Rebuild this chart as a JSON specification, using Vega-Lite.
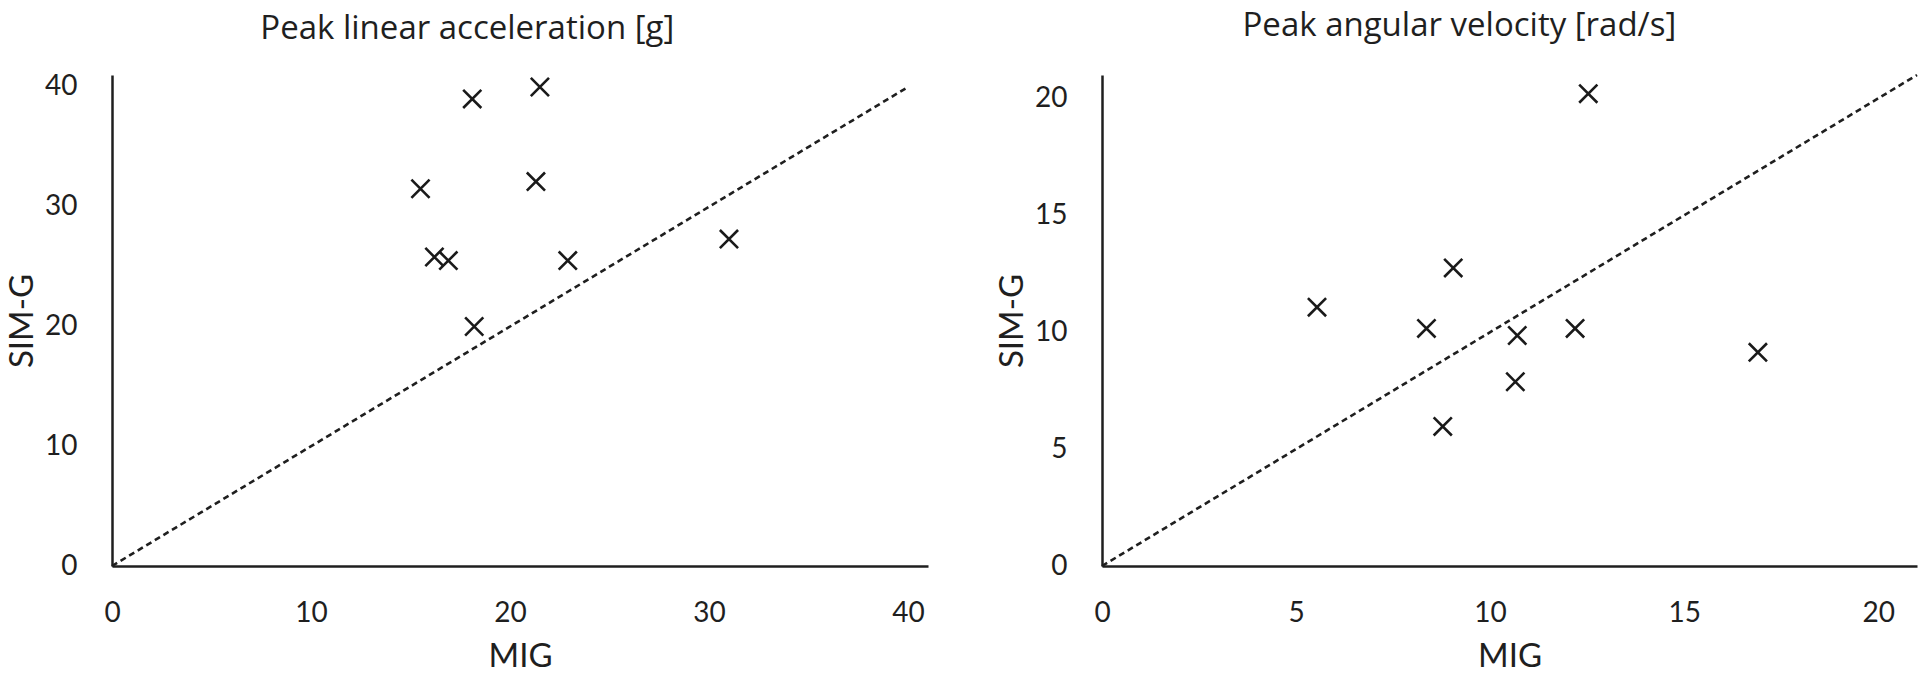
{
  "$schema": "https://vega.github.io/schema/vega-lite/v6.json",
  "background": "white",
  "padding": {"left": 6, "top": 9, "right": 0, "bottom": 0},
  "spacing": 68,
  "config": {
    "view": {"stroke": null},
    "font": "Lato",
    "axis": {
      "grid": false,
      "ticks": false,
      "tickSize": 0,
      "domainColor": "#1f1f1f",
      "domainWidth": 2.5,
      "labelFont": "Lato",
      "labelFontSize": 28,
      "labelColor": "#1f1f1f",
      "labelFlush": false,
      "labelOverlap": false,
      "titleFont": "Lato",
      "titleFontSize": 33,
      "titleFontWeight": "normal",
      "titleColor": "#1f1f1f"
    },
    "axisX": {"labelPadding": 33, "titlePadding": 13},
    "axisY": {"labelPadding": 35, "titlePadding": 5},
    "title": {"font": "Open Sans", "fontSize": 33, "fontWeight": "normal", "color": "#1f1f1f", "frame": "bounds", "anchor": "middle", "offset": 27}
  },
  "hconcat": [
    {
      "title": "Peak linear acceleration [g]",
      "width": 816,
      "height": 491,
      "encoding": {
        "x": {"field": "MIG", "type": "quantitative", "scale": {"domain": [0, 41], "nice": false}, "axis": {"values": [0, 10, 20, 30, 40], "title": "MIG"}},
        "y": {"field": "SIMG", "type": "quantitative", "scale": {"domain": [0, 41], "nice": false}, "axis": {"values": [0, 10, 20, 30, 40], "title": "SIM-G"}}
      },
      "layer": [
        {
          "data": {"values": [{"MIG": 0, "SIMG": 0}, {"MIG": 40, "SIMG": 40}]},
          "mark": {"type": "line", "color": "#1f1f1f", "strokeWidth": 2.6, "strokeDash": [6, 4]}
        },
        {
          "data": {"values": [
            {"MIG": 18.1, "SIMG": 39.0},
            {"MIG": 21.5, "SIMG": 40.0},
            {"MIG": 15.5, "SIMG": 31.5},
            {"MIG": 21.3, "SIMG": 32.1},
            {"MIG": 16.2, "SIMG": 25.8},
            {"MIG": 16.9, "SIMG": 25.5},
            {"MIG": 22.9, "SIMG": 25.5},
            {"MIG": 31.0, "SIMG": 27.3},
            {"MIG": 18.2, "SIMG": 20.0}
          ]},
          "mark": {"type": "point", "shape": "M-1,-1L1,1M-1,1L1,-1", "filled": false, "size": 330, "strokeWidth": 2.6, "color": "#1a1a1a", "opacity": 1}
        }
      ]
    },
    {
      "title": "Peak angular velocity [rad/s]",
      "width": 815,
      "height": 491,
      "encoding": {
        "x": {"field": "MIG", "type": "quantitative", "scale": {"domain": [0, 21], "nice": false}, "axis": {"values": [0, 5, 10, 15, 20], "title": "MIG"}},
        "y": {"field": "SIMG", "type": "quantitative", "scale": {"domain": [0, 21], "nice": false}, "axis": {"values": [0, 5, 10, 15, 20], "title": "SIM-G"}}
      },
      "layer": [
        {
          "data": {"values": [{"MIG": 0, "SIMG": 0}, {"MIG": 21, "SIMG": 21}]},
          "mark": {"type": "line", "color": "#1f1f1f", "strokeWidth": 2.6, "strokeDash": [6, 4]}
        },
        {
          "data": {"values": [
            {"MIG": 12.53, "SIMG": 20.2},
            {"MIG": 9.05, "SIMG": 12.75},
            {"MIG": 5.54, "SIMG": 11.07},
            {"MIG": 8.36, "SIMG": 10.16},
            {"MIG": 10.7, "SIMG": 9.86},
            {"MIG": 12.19, "SIMG": 10.16},
            {"MIG": 16.9, "SIMG": 9.14},
            {"MIG": 10.65, "SIMG": 7.88},
            {"MIG": 8.78, "SIMG": 5.97}
          ]},
          "mark": {"type": "point", "shape": "M-1,-1L1,1M-1,1L1,-1", "filled": false, "size": 330, "strokeWidth": 2.6, "color": "#1a1a1a", "opacity": 1}
        }
      ]
    }
  ]
}
